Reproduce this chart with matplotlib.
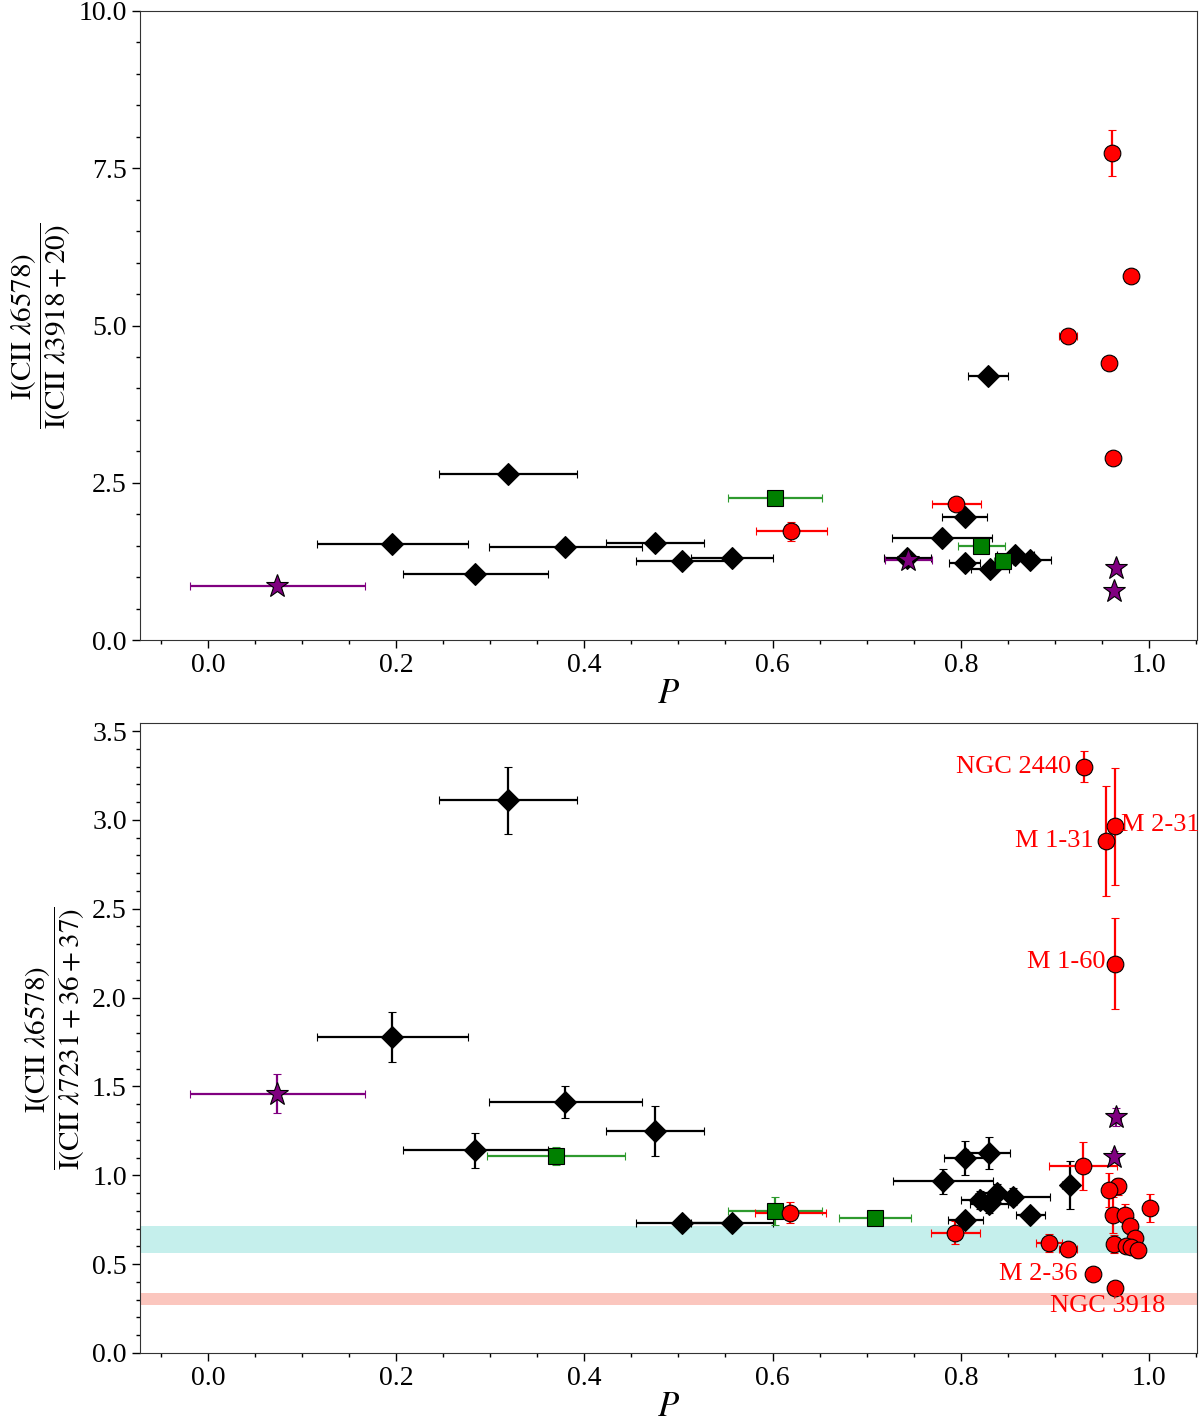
import matplotlib
matplotlib.use("Agg")
import matplotlib.pyplot as plt
from matplotlib.ticker import MultipleLocator

plt.rcParams['font.family'] = ['Liberation Serif', 'DejaVu Serif']
plt.rcParams['mathtext.fontset'] = 'stix'

# ---------------- top panel data ----------------
top_black_P = [0.319, 0.196, 0.380, 0.284, 0.475, 0.504, 0.557, 0.829, 0.780, 0.804, 0.804, 0.831, 0.858, 0.874, 0.743]
top_black_V = [2.64, 1.53, 1.48, 1.05, 1.54, 1.26, 1.30, 4.20, 1.62, 1.96, 1.22, 1.13, 1.35, 1.28, 1.31]
top_black_Pe = [0.073, 0.080, 0.081, 0.077, 0.052, 0.049, 0.044, 0.021, 0.053, 0.024, 0.016, 0.020, 0.020, 0.022, 0.025]
top_black_Ve = [0.03] * 15

top_green_P = [0.603, 0.822, 0.845]
top_green_V = [2.26, 1.50, 1.26]
top_green_Pe = [0.050, 0.025, 0.010]
top_green_Ve = [0.06, 0.05, 0.04]

top_red_P = [0.961, 0.981, 0.914, 0.957, 0.962, 0.795, 0.620]
top_red_V = [7.74, 5.79, 4.84, 4.40, 2.89, 2.16, 1.73]
top_red_Pe = [0.005, 0.005, 0.010, 0.005, 0.005, 0.026, 0.038]
top_red_Ve = [0.36, 0.05, 0.05, 0.05, 0.05, 0.06, 0.15]

top_purple_P = [0.074, 0.744, 0.965, 0.963]
top_purple_V = [0.86, 1.27, 1.14, 0.78]
top_purple_Pe = [0.093, 0.025, 0.005, 0.005]
top_purple_Ve = [0.03, 0.03, 0.03, 0.03]

# ---------------- bottom panel data ----------------
bot_black_P = [0.319, 0.196, 0.380, 0.284, 0.475, 0.504, 0.557, 0.805, 0.830, 0.781, 0.916, 0.805, 0.830, 0.839, 0.855, 0.874, 0.820]
bot_black_V = [3.11, 1.78, 1.41, 1.14, 1.25, 0.73, 0.73, 1.096, 1.127, 0.966, 0.945, 0.75, 0.84, 0.90, 0.88, 0.777, 0.86]
bot_black_Pe = [0.073, 0.080, 0.081, 0.077, 0.052, 0.049, 0.044, 0.023, 0.022, 0.053, 0.008, 0.019, 0.020, 0.020, 0.040, 0.015, 0.020]
bot_black_Ve = [0.19, 0.14, 0.09, 0.10, 0.14, 0.04, 0.04, 0.096, 0.09, 0.07, 0.134, 0.04, 0.05, 0.05, 0.05, 0.04, 0.05]

bot_green_P = [0.370, 0.603, 0.709]
bot_green_V = [1.11, 0.80, 0.76]
bot_green_Pe = [0.073, 0.050, 0.038]
bot_green_Ve = [0.05, 0.08, 0.03]

bot_red_P = [0.931, 0.964, 0.954, 0.964, 0.930, 0.967, 0.957, 1.001, 0.962, 0.975, 0.980,
             0.794, 0.894, 0.914, 0.963, 0.985, 0.976, 0.981, 0.988, 0.940, 0.964, 0.619]
bot_red_V = [3.30, 2.963, 2.88, 2.19, 1.052, 0.937, 0.917, 0.814, 0.777, 0.777, 0.717,
             0.677, 0.621, 0.585, 0.613, 0.645, 0.60, 0.596, 0.577, 0.444, 0.366, 0.79]
bot_red_Pe = [0.005, 0.005, 0.005, 0.005, 0.036, 0.005, 0.005, 0.005, 0.005, 0.005, 0.005,
              0.026, 0.014, 0.010, 0.005, 0.005, 0.005, 0.005, 0.005, 0.005, 0.005, 0.038]
bot_red_Ve = [0.087, 0.33, 0.31, 0.257, 0.136, 0.05, 0.094, 0.078, 0.10, 0.06, 0.05,
              0.066, 0.05, 0.04, 0.05, 0.04, 0.04, 0.04, 0.04, 0.04, 0.02, 0.06]

bot_purple_P = [0.074, 0.965, 0.963]
bot_purple_V = [1.46, 1.33, 1.105]
bot_purple_Pe = [0.093, 0.005, 0.005]
bot_purple_Ve = [0.11, 0.05, 0.03]

# labelled objects (index into bottom red arrays)
label_names = ['NGC 2440', 'M 2-31', 'M 1-31', 'M 1-60', 'M 2-36', 'NGC 3918']
label_index = [0, 1, 2, 3, 19, 20]

# horizontal bands
cyan_band = (0.563, 0.712)
salmon_band = (0.270, 0.336)

fig = plt.figure(figsize=(12, 14.23), dpi=100)
ax1 = fig.add_axes([0.1167, 0.5502, 0.8808, 0.4421])
ax2 = fig.add_axes([0.1167, 0.0492, 0.8808, 0.4427])


def draw(ax, P, V, Pe, Ve, marker, face, ecol, ms):
    ax.errorbar(P, V, xerr=Pe, yerr=Ve, fmt=marker, ms=ms, mfc=face, mec='black',
                mew=0.8, ecolor=ecol, elinewidth=1.6, capsize=3, capthick=1.3,
                linestyle='none', zorder=3)


draw(ax1, top_black_P, top_black_V, top_black_Pe, top_black_Ve, 'D', 'black', 'black', 11.5)
draw(ax1, top_green_P, top_green_V, top_green_Pe, top_green_Ve, 's', 'green', '#2e9a2e', 11.5)
draw(ax1, top_red_P, top_red_V, top_red_Pe, top_red_Ve, 'o', 'red', 'red', 12)
draw(ax1, top_purple_P, top_purple_V, top_purple_Pe, top_purple_Ve, '*', 'purple', 'purple', 17)

ax2.axhspan(*cyan_band, color='#c5efec', lw=0, zorder=1)
ax2.axhspan(*salmon_band, color='#fbc6be', lw=0, zorder=1)
draw(ax2, bot_black_P, bot_black_V, bot_black_Pe, bot_black_Ve, 'D', 'black', 'black', 11.5)
draw(ax2, bot_green_P, bot_green_V, bot_green_Pe, bot_green_Ve, 's', 'green', '#2e9a2e', 11.5)
draw(ax2, bot_red_P, bot_red_V, bot_red_Pe, bot_red_Ve, 'o', 'red', 'red', 12)
draw(ax2, bot_purple_P, bot_purple_V, bot_purple_Pe, bot_purple_Ve, '*', 'purple', 'purple', 17)

offsets = {'NGC 2440': (-9, 0, 'right', 'center'),
           'M 2-31': (4, 1, 'left', 'center'),
           'M 1-31': (-9, 0, 'right', 'center'),
           'M 1-60': (-7, 1, 'right', 'center'),
           'M 2-36': (-11, 0, 'right', 'center'),
           'NGC 3918': (-5, -5, 'center', 'top')}
for name, i in zip(label_names, label_index):
    dx, dy, ha, va = offsets[name]
    ax2.annotate(name, (bot_red_P[i], bot_red_V[i]), xytext=(dx, dy),
                 textcoords='offset points', ha=ha, va=va, color='red',
                 fontsize=19, zorder=4)

for ax in (ax1, ax2):
    ax.set_xlim(-0.072, 1.051)
    ax.xaxis.set_major_locator(MultipleLocator(0.2))
    ax.xaxis.set_minor_locator(MultipleLocator(0.05))
    ax.tick_params(which='major', length=6, width=1, labelsize=20, direction='out')
    ax.tick_params(which='minor', length=3, width=1, direction='out')
    ax.set_xlabel(r'$P$', fontsize=25, labelpad=0)
    for s in ax.spines.values():
        s.set_color('#333333')

ax1.set_ylim(0, 10)
ax1.yaxis.set_major_locator(MultipleLocator(2.5))
ax1.yaxis.set_minor_locator(MultipleLocator(0.5))
ax1.set_ylabel(r'$\dfrac{\mathrm{I(CII}\ \lambda6578)}{\mathrm{I(CII}\ \lambda3918+20)}$', fontsize=21)

ax2.set_ylim(0, 3.545)
ax2.yaxis.set_major_locator(MultipleLocator(0.5))
ax2.yaxis.set_minor_locator(MultipleLocator(0.1))
ax2.set_ylabel(r'$\dfrac{\mathrm{I(CII}\ \lambda6578)}{\mathrm{I(CII}\ \lambda7231+36+37)}$', fontsize=21)

fig.savefig('out.png', dpi=100)
